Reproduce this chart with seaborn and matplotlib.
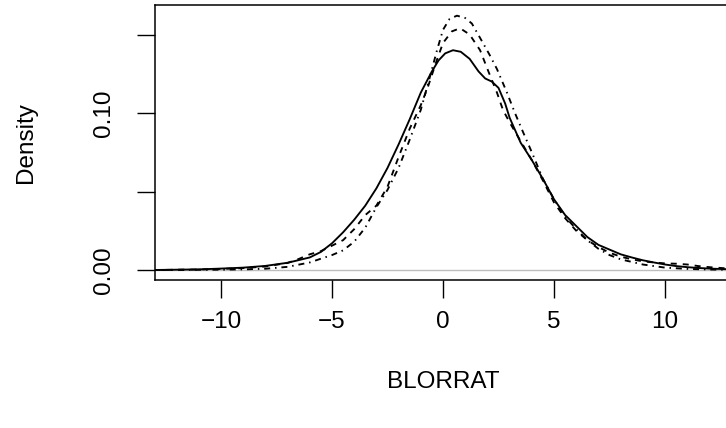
import numpy as np
import pandas as pd
import matplotlib
matplotlib.use("Agg")
import matplotlib.pyplot as plt
import seaborn as sns

# ---- data (x = BLORRAT, y = density) ----
x_solid = [-13, -12, -11, -10, -9, -8, -7, -6, -5.5, -5, -4.5, -4, -3.5, -3, -2.5, -2, -1.5, -1,
           -0.5, -0.2, 0.1, 0.45, 0.8, 1.2, 1.6, 1.9, 2.2, 2.5, 2.8, 3.0, 3.5, 4, 4.5, 5, 5.5, 6,
           6.5, 7, 7.5, 8, 8.5, 9, 9.5, 10, 10.5, 11, 11.5, 12, 13]
y_solid = [0.0000, 0.0002, 0.0004, 0.0009, 0.0015, 0.0026, 0.0046, 0.0080, 0.0115, 0.0170, 0.0240,
           0.0320, 0.0410, 0.0520, 0.0650, 0.0800, 0.0960, 0.1130, 0.1265, 0.1335, 0.1380, 0.1400,
           0.1390, 0.1345, 0.1265, 0.1220, 0.1200, 0.1160, 0.1060, 0.0970, 0.0810, 0.0700, 0.0580,
           0.0450, 0.0350, 0.0280, 0.0210, 0.0160, 0.0130, 0.0100, 0.0080, 0.0062, 0.0048, 0.0035,
           0.0025, 0.0018, 0.0013, 0.0009, 0.0004]

x_dashed = [-13, -11, -10, -9, -8, -7, -6.5, -6, -5.5, -5, -4.5, -4, -3.5, -3, -2.5, -2, -1.5, -1,
            -0.68, -0.27, 0, 0.4, 0.77, 1.2, 1.67, 2.03, 2.43, 2.7, 3, 3.5, 4, 4.5, 5, 5.5, 6, 6.5,
            7, 7.5, 8, 8.5, 9, 9.5, 10, 10.5, 11, 11.5, 12, 13]
y_dashed = [0.0000, 0.0003, 0.0007, 0.0012, 0.0022, 0.0045, 0.0070, 0.0100, 0.0120, 0.0155, 0.0190,
            0.0260, 0.0350, 0.0410, 0.0530, 0.0720, 0.0900, 0.1050, 0.1166, 0.1340, 0.1446, 0.1520,
            0.1540, 0.1500, 0.1400, 0.1270, 0.1130, 0.1020, 0.0940, 0.0820, 0.0700, 0.0570, 0.0430,
            0.0330, 0.0250, 0.0190, 0.0146, 0.0110, 0.0085, 0.0068, 0.0055, 0.0048, 0.0042, 0.0040,
            0.0035, 0.0025, 0.0018, 0.0008]

x_dotdash = [-13, -10, -9, -8, -7, -6, -5.5, -5, -4.5, -4, -3.5, -3, -2.5, -2, -1.5, -1, -0.59,
             -0.27, 0, 0.3, 0.63, 1.0, 1.3, 1.8, 2.1, 2.43, 2.88, 3.24, 3.6, 4, 4.5, 5, 5.5, 6, 6.5,
             7, 7.5, 8, 9, 10, 11, 12, 13]
y_dotdash = [0.0000, 0.0002, 0.0004, 0.0008, 0.0020, 0.0048, 0.0072, 0.0095, 0.0125, 0.0180, 0.0270,
             0.0400, 0.0510, 0.0650, 0.0830, 0.1020, 0.1230, 0.1400, 0.1530, 0.1600, 0.1620, 0.1605,
             0.1570, 0.1446, 0.1370, 0.1280, 0.1130, 0.1000, 0.0880, 0.0750, 0.0580, 0.0450, 0.0340,
             0.0260, 0.0190, 0.0135, 0.0095, 0.0068, 0.0035, 0.0015, 0.0007, 0.0003, 0.0001]

x_ticks = [-10, -5, 0, 5, 10]
x_ticklabels = ["\u221210", "\u22125", "0", "5", "10"]
y_ticks = [0.00, 0.05, 0.10, 0.15]
y_ticklabels = ["0.00", "", "0.10", ""]

sns.set_theme(style="white")
plt.rcParams["font.family"] = ["Liberation Sans", "DejaVu Sans"]
FS = 17.5

W, H = 726, 428
fig = plt.figure(figsize=(W / 100, H / 100), dpi=100)
left, right, top, bottom = 155, 731, 5, 280
ax = fig.add_axes([left / W, (H - bottom) / H, (right - left) / W, (bottom - top) / H])

ax.axhline(0, color="#bebebe", lw=1.0, zorder=1)

lw = 1.35
sns.lineplot(x=x_solid, y=y_solid, ax=ax, color="black", lw=lw, sort=False, zorder=3)
sns.lineplot(x=x_dashed, y=y_dashed, ax=ax, color="black", lw=lw, sort=False,
             linestyle=(0, (3.2, 3.2)), zorder=3)
sns.lineplot(x=x_dotdash, y=y_dotdash, ax=ax, color="black", lw=lw, sort=False,
             linestyle=(0, (0.8, 2.6, 3.2, 2.6)), zorder=3)

ax.set_xlim(-12.97, 12.97)
ax.set_ylim(-0.00637, 0.1688)

ax.set_xticks(x_ticks)
ax.set_xticklabels(x_ticklabels, fontsize=FS)
ax.set_yticks(y_ticks)
ax.set_yticklabels(y_ticklabels, fontsize=FS, rotation=90, va="center")

ax.tick_params(axis="both", direction="out", length=13, width=1.0, color="black",
               labelcolor="black", bottom=True, left=True)
ax.tick_params(axis="x", pad=9)
ax.tick_params(axis="y", pad=16)

for side in ["left", "top", "bottom", "right"]:
    ax.spines[side].set_visible(True)
    ax.spines[side].set_color("black")
    ax.spines[side].set_linewidth(1.1)

ax.set_xlabel("BLORRAT", fontsize=FS, color="black", labelpad=28)
ax.set_ylabel("Density", fontsize=FS, color="black", labelpad=40)
ax.grid(False)

fig.savefig("out.png", dpi=100)
